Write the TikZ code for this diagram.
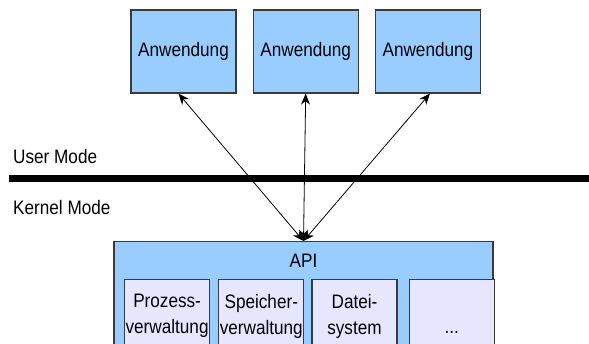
\documentclass[tikz,border=0pt]{standalone}
\usepackage{fontspec}
\setmainfont{Liberation Sans}[FakeStretch=0.88]
\usetikzlibrary{positioning,arrows.meta}

\definecolor{appblue}{HTML}{99CCFF}
\definecolor{modlilac}{HTML}{E6E6FF}
\definecolor{frame}{HTML}{3A3A3A}

\begin{document}
\begin{tikzpicture}[
    x=1pt, y=-1pt,
    app/.style={rectangle, draw=frame, fill=appblue, line width=1.2pt, minimum width=105pt, minimum height=83pt, inner sep=0pt, font=\fontsize{19.5}{22}\selectfont},
    apibox/.style={rectangle, draw=frame, fill=appblue, line width=1.2pt, anchor=north, minimum width=379pt, text height=26pt, text depth=80pt, inner sep=0pt, font=\fontsize{19.5}{22}\selectfont},
    module/.style={rectangle, draw=frame, fill=modlilac, line width=1.2pt, minimum width=85pt, minimum height=73pt, inner sep=0pt, anchor=north west, align=center, font=\fontsize{19.5}{26}\selectfont},
    mode/.style={anchor=base west, inner sep=0pt, font=\fontsize{19.5}{22}\selectfont},
    arrow/.style={{Stealth[length=11pt,width=9pt]}-{Stealth[length=11pt,width=9pt]}, line width=0.8pt}
]
    \useasboundingbox (0,0) rectangle (589,343);
    \clip (0,0) rectangle (589,343);

    % Applications
    \node[app] (app1) at (183.5,51.5) {Anwendung};
    \node[app, right=16pt of app1] (app2) {Anwendung};
    \node[app, right=16pt of app2] (app3) {Anwendung};

    % User/kernel boundary
    \node[mode] (user) at (13,163) {User Mode};
    \node[mode] (kernel) at (13,214) {Kernel Mode};
    \draw[line width=7pt] (9,178) -- (589,178);

    % Kernel
    \node[apibox] (api) at (303.5,241) {API};
    \node[module] (proc) at (124,279) {Prozess-\\verwaltung};
    \node[module, right=8pt of proc] (mem) {Speicher-\\verwaltung};
    \node[module, right=7pt of mem] (fs) {Datei-\\system};
    \node[module, right=11pt of fs] (more) {\vphantom{D}\\...\vphantom{g}};

    % Arrows
    \coordinate (hub) at (api.north);
    \draw[arrow] ([xshift=-5pt]app1.south) -- (hub);
    \draw[arrow] (app2.south) -- (hub);
    \draw[arrow] ([xshift=2pt]app3.south) -- (hub);
\end{tikzpicture}
\end{document}
